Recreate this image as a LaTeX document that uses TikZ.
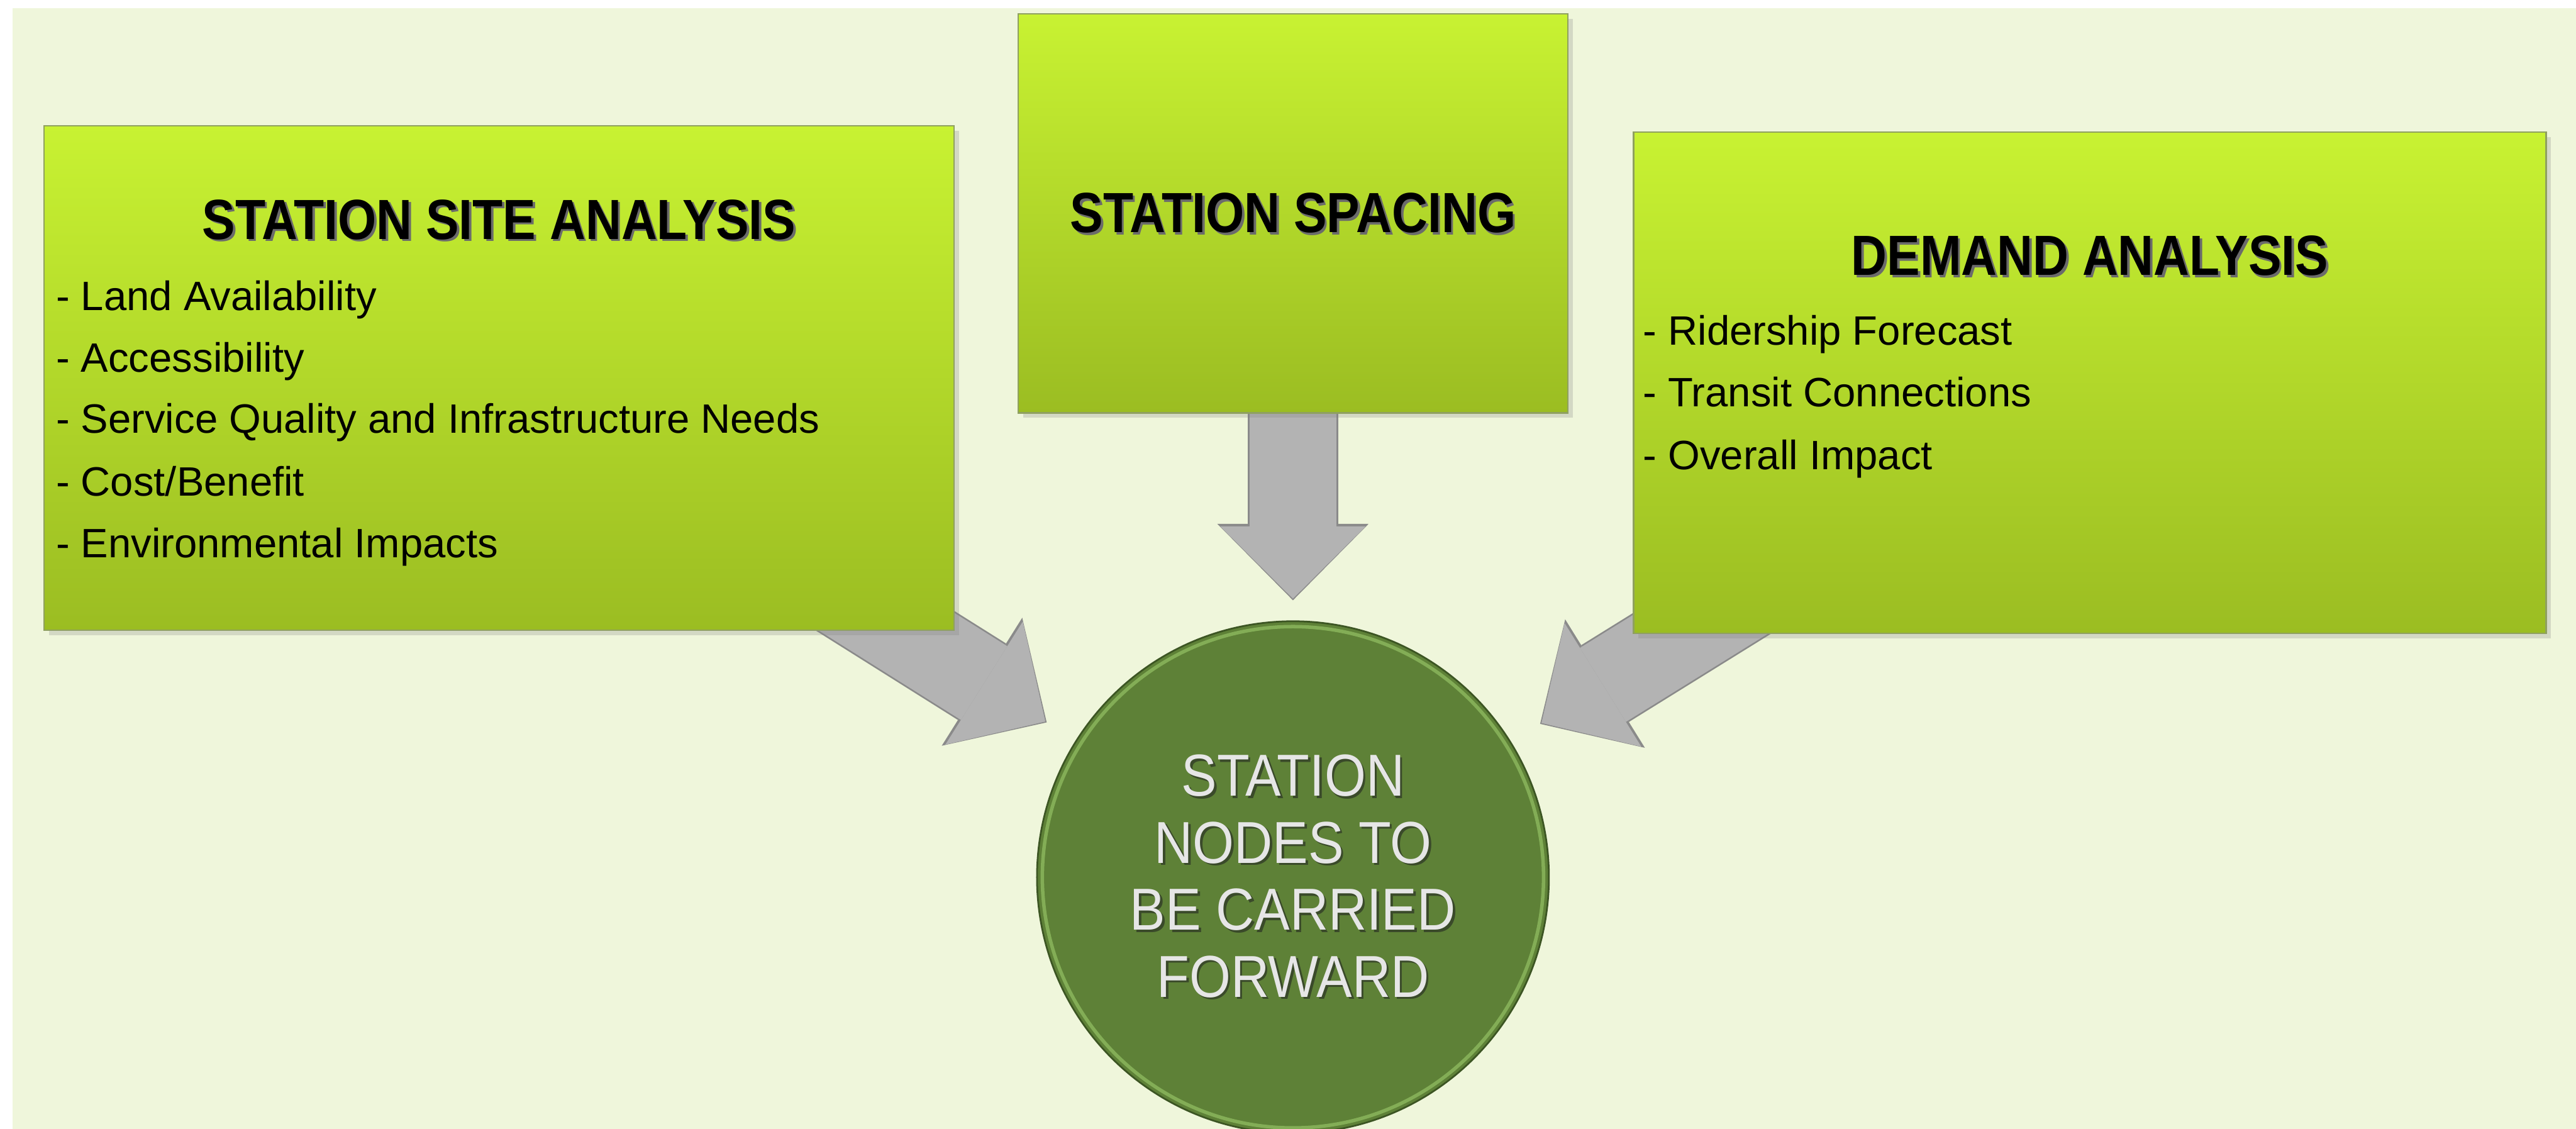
\documentclass[tikz,border=0pt]{standalone}
\usepackage{fontspec}
\setmainfont{Liberation Sans}
\newfontfamily\narrowsans{Liberation Sans}[FakeStretch=0.875]
\newfontfamily\hubsans{Liberation Sans}[FakeStretch=0.9]
\usetikzlibrary{arrows.meta,shadows}
\definecolor{myPale}{HTML}{EFF6DB}
\definecolor{myLime}{HTML}{C8F232}
\definecolor{myOlive}{HTML}{9BBD22}
\definecolor{myEdge}{HTML}{8FA060}
\definecolor{myGray}{HTML}{B3B3B3}
\definecolor{myGrayEdge}{HTML}{8A8A8A}
\definecolor{myGreen}{HTML}{5E8137}
\definecolor{myDark}{HTML}{3C5523}
\definecolor{myRim}{HTML}{9CCB6B}
\definecolor{myLight}{HTML}{E6E6E6}
\definecolor{myShade}{HTML}{6B6B6B}
\definecolor{myHubShade}{HTML}{3A4A2A}
\pgfdeclarelayer{canvas}
\pgfdeclarelayer{links}
\pgfsetlayers{canvas,links,main}
% text with a small offset shadow behind it
\newcommand\shd[2]{\makebox[0pt][l]{\kern0.8pt\raisebox{-0.8pt}{\textcolor{#1}{#2}}}#2}

\begin{document}
\begin{tikzpicture}
  \tikzstyle{P}=[rectangle, draw=myEdge, line width=0.5pt, top color=myLime, bottom color=myOlive,
                 drop shadow={opacity=0.25, shadow xshift=0.6mm, shadow yshift=-0.6mm}]
  \tikzstyle{H}=[circle, fill=myGreen, draw=myDark, line width=0.6pt, minimum size=6.23cm,
                 align=center, text=myLight, font=\hubsans\fontsize{20.5}{23.2}\selectfont]
  \tikzstyle{T}=[anchor=base, inner sep=0pt, font=\narrowsans\bfseries\fontsize{19.6}{23}\selectfont]
  \tikzstyle{L}=[anchor=base west, inner sep=0pt, font=\fontsize{14.2}{17}\selectfont]
  \tikzstyle{G}=[line width=1.10cm, draw=myGrayEdge, -{Triangle[width=1.84cm, length=0.93cm, line width=0pt]}]
  \tikzstyle{F}=[line width=1.06cm, draw=myGray, -{Triangle[width=1.77cm, length=0.88cm, line width=0pt]}]

  \useasboundingbox (0,0) rectangle (31.35,13.735);
  \begin{pgfonlayer}{canvas}
    \fill[white] (0,0) rectangle (31.35,13.735);
    \fill[myPale] (0.15,0) rectangle (31.35,13.635);
  \end{pgfonlayer}

  % the three input panels
  \node[P, minimum width=11.075cm, minimum height=6.14cm] at (6.0725,9.135) (SSA) {};
  \node[P, minimum width=6.69cm, minimum height=4.855cm] at (15.735,11.1375) (SS) {};
  \node[P, minimum width=11.105cm, minimum height=6.105cm] at (25.4325,9.0775) (DA) {};

  \node[T] at (6.0725,10.825) (SSAt) {\shd{myShade}{STATION SITE ANALYSIS}};
  \node[L] at (0.675,9.96) (SSA1) {- Land Availability};
  \node[L] at (0.675,9.21) (SSA2) {- Accessibility};
  \node[L] at (0.675,8.465) (SSA3) {- Service Quality and Infrastructure Needs};
  \node[L] at (0.675,7.70) (SSA4) {- Cost/Benefit};
  \node[L] at (0.675,6.95) (SSA5) {- Environmental Impacts};

  \node[T] at (15.735,10.905) (SSt) {\shd{myShade}{STATION SPACING}};

  \node[T] at (25.4325,10.385) (DAt) {\shd{myShade}{DEMAND ANALYSIS}};
  \node[L] at (19.99,9.54) (DA1) {- Ridership Forecast};
  \node[L] at (19.99,8.79) (DA2) {- Transit Connections};
  \node[L] at (19.99,8.02) (DA3) {- Overall Impact};

  % result
  \node[H] at (15.735,3.06) (SN) {\shd{myHubShade}{STATION}\\\shd{myHubShade}{NODES TO}\\
    \shd{myHubShade}{BE CARRIED}\\\shd{myHubShade}{FORWARD}};
  \draw[myRim, line width=1.2pt, opacity=0.6] (SN.center) circle (3.05cm);

  % block arrows, kept under the panels
  \begin{pgfonlayer}{links}
    \draw[G, shorten >=3.54cm] (SSA.center) -- (SN.center);
    \draw[F, shorten >=3.56cm] (SSA.center) -- (SN.center);
    \draw[G, shorten >=3.37cm] (SS.center) -- (SN.center);
    \draw[F, shorten >=3.39cm] (SS.center) -- (SN.center);
    \draw[G, shorten >=3.54cm] (DA.center) -- (SN.center);
    \draw[F, shorten >=3.56cm] (DA.center) -- (SN.center);
  \end{pgfonlayer}
\end{tikzpicture}
\end{document}
